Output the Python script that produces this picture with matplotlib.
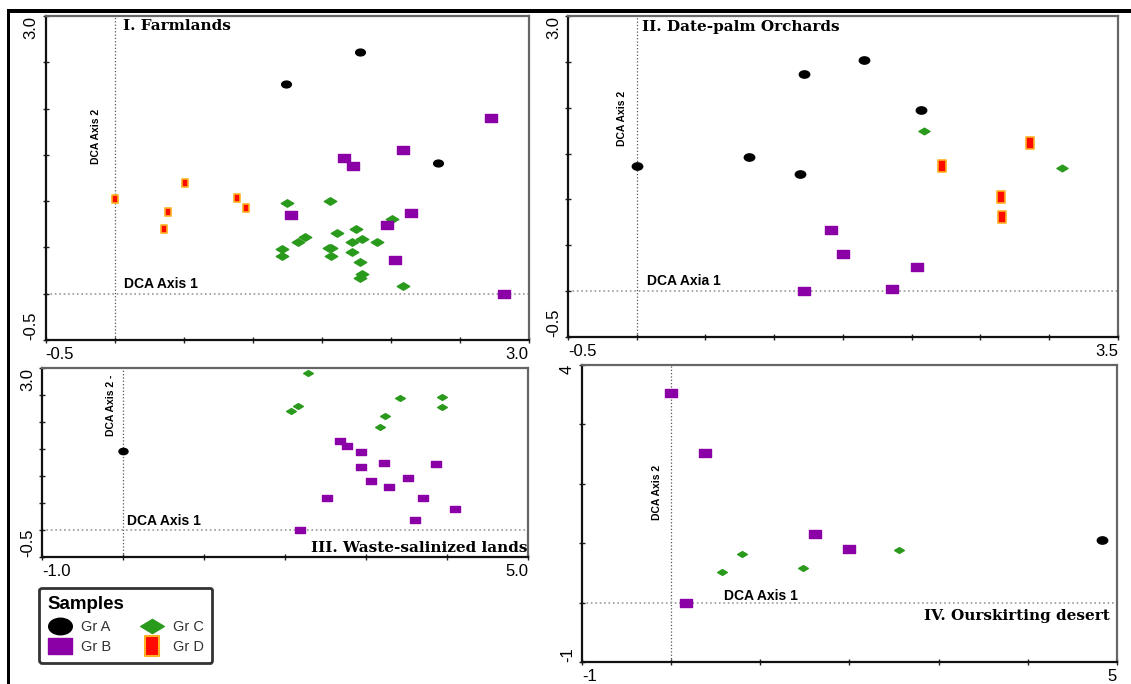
import numpy as np
import matplotlib
matplotlib.use("Agg")
import matplotlib.pyplot as plt
from matplotlib.path import Path
from matplotlib.transforms import Affine2D
from matplotlib.lines import Line2D
from matplotlib.patches import Rectangle

# ---- data ----
# I. Farmlands
p1_grA_x = [1.78, 1.24, 2.34]
p1_grA_y = [2.61, 2.27, 1.41]
p1_grB_x = [2.73, 2.09, 1.66, 1.73, 1.28, 2.15, 1.97, 2.03, 2.82]
p1_grB_y = [1.90, 1.55, 1.47, 1.38, 0.85, 0.87, 0.74, 0.36, 0.00]
p1_grC_x = [1.25, 1.56, 2.01, 1.75, 1.61, 1.38, 1.33, 1.79, 1.72, 1.90,
            1.21, 1.21, 1.55, 1.57, 1.57, 1.72, 1.78, 1.79, 1.78, 2.09]
p1_grC_y = [0.98, 1.00, 0.81, 0.70, 0.66, 0.61, 0.56, 0.59, 0.56, 0.56,
            0.48, 0.41, 0.49, 0.49, 0.41, 0.45, 0.34, 0.21, 0.17, 0.08]
p1_grD_x = [0.00, 0.51, 0.39, 0.36, 0.89, 0.95]
p1_grD_y = [1.02, 1.20, 0.88, 0.70, 1.03, 0.93]

# II. Date-palm Orchards
p2_grA_x = [0.00, 0.82, 1.19, 1.22, 1.65, 2.07]
p2_grA_y = [1.36, 1.46, 1.28, 2.37, 2.52, 1.97]
p2_grB_x = [1.41, 1.50, 2.04, 1.86, 1.22]
p2_grB_y = [0.67, 0.40, 0.26, 0.02, 0.00]
p2_grC_x = [2.09, 3.09]
p2_grC_y = [1.75, 1.34]
p2_grD_x = [2.22, 2.86, 2.65, 2.66]
p2_grD_y = [1.37, 1.62, 1.03, 0.81]

# III. Waste-salinized lands
p3_grA_x = [0.00]
p3_grA_y = [1.46]
p3_grB_x = [2.68, 2.76, 2.94, 2.94, 3.22, 3.87, 3.06, 3.52, 3.28, 2.52, 3.70, 4.10, 3.61, 2.18]
p3_grB_y = [1.64, 1.55, 1.45, 1.16, 1.24, 1.22, 0.91, 0.97, 0.79, 0.60, 0.60, 0.39, 0.19, 0.00]
p3_grC_x = [2.28, 2.08, 2.16, 3.42, 3.94, 3.94, 3.23, 3.17]
p3_grC_y = [2.90, 2.21, 2.29, 2.45, 2.46, 2.27, 2.11, 1.91]

# IV. Ourskirting desert
p4_grA_x = [4.83]
p4_grA_y = [1.05]
p4_grB_x = [0.00, 0.38, 1.61, 1.99, 0.17]
p4_grB_y = [3.53, 2.51, 1.16, 0.91, 0.00]
p4_grC_x = [0.57, 0.79, 1.48, 2.55]
p4_grC_y = [0.51, 0.82, 0.59, 0.88]

group_labels = ["Gr A", "Gr B", "Gr C", "Gr D"]

# ---- marker shapes ----
ellipse = Path.unit_circle().transformed(Affine2D().scale(1.0, 0.7))
wide_rect = Path([(-1, -0.65), (1, -0.65), (1, 0.65), (-1, 0.65), (-1, -0.65)], closed=True)
diamond = Path([(-1, 0), (0, 0.6), (1, 0), (0, -0.6), (-1, 0)], closed=True)
tall_rect = Path([(-0.7, -1), (0.7, -1), (0.7, 1), (-0.7, 1), (-0.7, -1)], closed=True)

purple = "#8a00a6"
green = "#2a9a1c"
red = "#ff0a00"
orange = "#ffb020"

style_A = dict(marker=ellipse, color="black", mec="black", ls="none")
style_B = dict(marker=wide_rect, color=purple, mec=purple, ls="none")
style_C = dict(marker=diamond, color=green, mec=green, ls="none")
style_D = dict(marker=tall_rect, color=red, mec=orange, mew=1.2, ls="none")

fig = plt.figure(figsize=(11.31, 6.84), dpi=100)

tick_font = dict(family="Liberation Sans", size=12)
title_font = dict(family="DejaVu Serif", weight="bold", size=11)
axis_font = dict(family="Liberation Sans", weight="bold", size=10)
vaxis_font = dict(family=["Liberation Sans Narrow", "Liberation Sans"], weight="bold", size=7.5)


def setup(ax, xlim, ylim, xstep, ystep, xfmt, yfmt):
    ax.set_xlim(xlim)
    ax.set_ylim(ylim)
    xt = np.arange(xlim[0], xlim[1] + 1e-9, xstep)
    yt = np.arange(ylim[0], ylim[1] + 1e-9, ystep)
    ax.set_xticks(xt)
    ax.set_yticks(yt)
    xl = [""] * len(xt)
    xl[0], xl[-1] = xfmt.format(xlim[0]), xfmt.format(xlim[1])
    yl = [""] * len(yt)
    yl[0], yl[-1] = yfmt.format(ylim[0]), yfmt.format(ylim[1])
    ax.set_xticklabels(xl, **tick_font)
    ax.set_yticklabels(yl, rotation=90, **tick_font)
    xlabs = ax.get_xticklabels()
    xlabs[0].set_ha("left")
    xlabs[-1].set_ha("right")
    ylabs = ax.get_yticklabels()
    ylabs[0].set_va("bottom")
    ylabs[-1].set_va("top")
    ax.tick_params(direction="inout", length=4, width=1, pad=3, color="#222")
    for s in ["left", "bottom"]:
        ax.spines[s].set_color("#111")
        ax.spines[s].set_linewidth(1.6)
    for s in ["top", "right"]:
        ax.spines[s].set_color("#666")
        ax.spines[s].set_linewidth(1.6)
    ax.axvline(0, color="#555", ls=":", lw=0.9, zorder=1)
    ax.axhline(0, color="#999", ls=":", lw=1.2, zorder=1)


# Panel I
ax1 = fig.add_axes([0.0404, 0.5029, 0.4270, 0.4737])
setup(ax1, (-0.5, 3.0), (-0.5, 3.0), 0.5, 0.5, "{:.1f}", "{:.1f}")
ax1.plot(p1_grC_x, p1_grC_y, ms=9, **style_C)
ax1.plot(p1_grD_x, p1_grD_y, ms=5.5, **style_D)
ax1.plot(p1_grB_x, p1_grB_y, ms=8, **style_B)
ax1.plot(p1_grA_x, p1_grA_y, ms=7, **style_A)
ax1.text(0.160, 0.969, "I. Farmlands", transform=ax1.transAxes, va="center", **title_font)
ax1.text(0.104, 0.627, "DCA Axis 2", transform=ax1.transAxes, rotation=90,
         ha="center", va="center", **vaxis_font)
ax1.text(0.162, 0.173, "DCA Axis 1", transform=ax1.transAxes, va="center", **axis_font)

# Panel II
ax2 = fig.add_axes([0.5022, 0.5073, 0.4863, 0.4693])
setup(ax2, (-0.5, 3.5), (-0.5, 3.0), 0.5, 0.5, "{:.1f}", "{:.1f}")
ax2.plot(p2_grC_x, p2_grC_y, ms=8, **style_C)
ax2.plot(p2_grD_x, p2_grD_y, ms=8, **style_D)
ax2.plot(p2_grB_x, p2_grB_y, ms=8, **style_B)
ax2.plot(p2_grA_x, p2_grA_y, ms=7.5, **style_A)
ax2.text(0.1345, 0.966, "II. Date-palm Orchards", transform=ax2.transAxes, va="center", **title_font)
ax2.text(0.098, 0.682, "DCA Axis 2", transform=ax2.transAxes, rotation=90,
         ha="center", va="center", **vaxis_font)
ax2.text(0.1436, 0.174, "DCA Axia 1", transform=ax2.transAxes, va="center", **axis_font)

# Panel III
ax3 = fig.add_axes([0.0371, 0.1857, 0.4297, 0.2763])
setup(ax3, (-1.0, 5.0), (-0.5, 3.0), 1.0, 0.5, "{:.1f}", "{:.1f}")
ax3.plot(p3_grC_x, p3_grC_y, ms=7, **style_C)
ax3.plot(p3_grB_x, p3_grB_y, ms=7.5, **style_B)
ax3.plot(p3_grA_x, p3_grA_y, ms=6.5, **style_A)
ax3.text(0.142, 0.804, "DCA Axis 2 -", transform=ax3.transAxes, rotation=90,
         ha="center", va="center", **vaxis_font)
ax3.text(0.175, 0.190, "DCA Axis 1", transform=ax3.transAxes, va="center", **axis_font)
ax3.text(0.999, 0.048, "III. Waste-salinized lands", transform=ax3.transAxes,
         ha="right", va="center", **title_font)

# Panel IV
ax4 = fig.add_axes([0.5146, 0.0322, 0.4730, 0.4342])
setup(ax4, (-1, 5), (-1, 4), 1, 1, "{:d}", "{:d}")
ax4.plot(p4_grC_x, p4_grC_y, ms=7, **style_C)
ax4.plot(p4_grB_x, p4_grB_y, ms=8, **style_B)
ax4.plot(p4_grA_x, p4_grA_y, ms=7.5, **style_A)
ax4.text(0.140, 0.572, "DCA Axis 2", transform=ax4.transAxes, rotation=90,
         ha="center", va="center", **vaxis_font)
ax4.text(0.265, 0.222, "DCA Axis 1", transform=ax4.transAxes, va="center", **axis_font)
ax4.text(0.987, 0.155, "IV. Ourskirting desert", transform=ax4.transAxes,
         ha="right", va="center", **title_font)

# Legend
handles = [Line2D([], [], ms=17, **style_A),
           Line2D([], [], ms=17, **style_B),
           Line2D([], [], ms=17, **style_C),
           Line2D([], [], ms=14, **{**style_D, "mew": 1.5})]
leg = fig.legend(handles, group_labels, ncol=2, title="Samples", alignment="left",
                 loc="upper left", bbox_to_anchor=(0.0345, 0.141),
                 prop=dict(family="Liberation Sans", size=10.5),
                 title_fontproperties=dict(family="Liberation Sans", weight="bold", size=13.5),
                 frameon=True, fancybox=True, handlelength=1.7, handletextpad=0.6,
                 columnspacing=1.9, labelspacing=0.45, borderpad=0.6, borderaxespad=0)
leg.get_frame().set_edgecolor("black")
leg.get_frame().set_linewidth(2)
for t in leg.get_texts():
    t.set_color("#333")

# outer frame lines (top and left)
fig.add_artist(Rectangle((7 / 1131, 1 - 13 / 684), 1 - 7 / 1131, 4 / 684,
                         transform=fig.transFigure, color="black", lw=0))
fig.add_artist(Rectangle((7 / 1131, 0), 3 / 1131, 1 - 9 / 684,
                         transform=fig.transFigure, color="black", lw=0))

fig.savefig("out.png", dpi=100)
